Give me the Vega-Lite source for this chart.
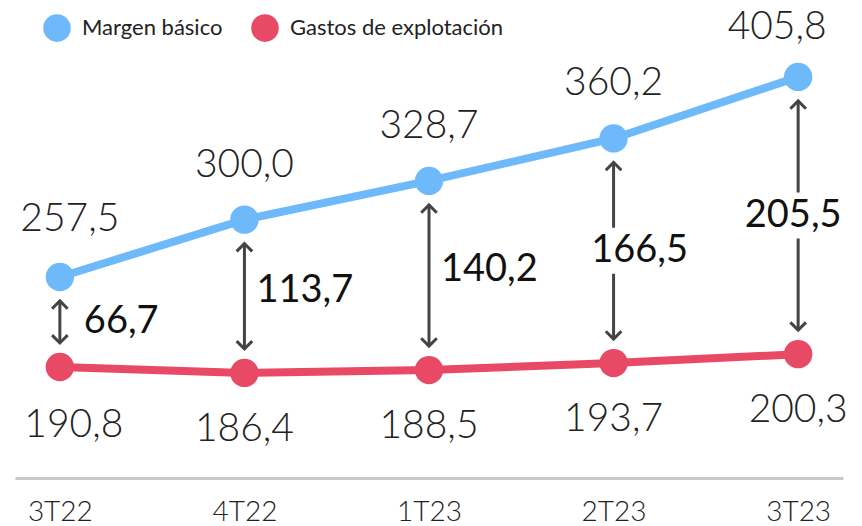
{
  "$schema": "https://vega.github.io/schema/vega-lite/v6.json",
  "width": 828,
  "height": 478,
  "autosize": {"type": "none"},
  "padding": {"left": 15, "top": 0, "right": 19, "bottom": 48},
  "background": "white",
  "config": {
    "view": {"stroke": null},
    "font": "Lato",
    "locale": {"number": {"decimal": ",", "thousands": ".", "grouping": [3], "currency": ["", " €"]}}
  },
  "data": {
    "values": [
      {"q": "3T22", "margen": 257.5, "gastos": 190.8, "diferencia": 66.7},
      {"q": "4T22", "margen": 300.0, "gastos": 186.4, "diferencia": 113.7},
      {"q": "1T23", "margen": 328.7, "gastos": 188.5, "diferencia": 140.2},
      {"q": "2T23", "margen": 360.2, "gastos": 193.7, "diferencia": 166.5},
      {"q": "3T23", "margen": 405.8, "gastos": 200.3, "diferencia": 205.5}
    ]
  },
  "encoding": {
    "x": {
      "field": "q", "type": "ordinal", "sort": null,
      "scale": {"type": "point", "padding": 0.243},
      "axis": {
        "title": null, "labelAngle": 0, "ticks": false, "grid": false,
        "domain": true, "domainColor": "#c8c8c8", "domainWidth": 3,
        "labelFont": "Lato", "labelFontWeight": 300, "labelFontSize": 28,
        "labelColor": "#222222", "labelPadding": 20
      }
    }
  },
  "layer": [
    {
      "transform": [{"fold": ["margen", "gastos"], "as": ["serie", "valor"]}],
      "mark": {"type": "line", "strokeWidth": 8},
      "encoding": {
        "y": {"field": "valor", "type": "quantitative", "scale": {"domain": [108.5, 462.8], "nice": false, "zero": false}, "axis": null},
        "color": {"field": "serie", "type": "nominal", "scale": {"domain": ["margen", "gastos"], "range": ["#6DB9FA", "#E84A66"]}}
      }
    },
    {
      "transform": [{"fold": ["margen", "gastos"], "as": ["serie", "valor"]}],
      "mark": {"type": "point", "filled": true, "size": 804, "opacity": 1},
      "encoding": {
        "y": {"field": "valor", "type": "quantitative", "scale": {"domain": [108.5, 462.8], "nice": false, "zero": false}, "axis": null},
        "color": {
          "field": "serie", "type": "nominal",
          "scale": {"domain": ["margen", "gastos"], "range": ["#6DB9FA", "#E84A66"]},
          "legend": {
            "title": null, "orient": "none", "legendX": 28, "legendY": 14, "direction": "horizontal",
            "symbolType": "circle", "symbolSize": 760, "symbolStrokeWidth": 0, "symbolOpacity": 1,
            "labelFont": "Lato", "labelFontSize": 22, "labelColor": "#222222", "labelOffset": 11,
            "labelLimit": 400, "columnPadding": 28,
            "labelExpr": "datum.value == 'margen' ? 'Margen básico' : 'Gastos de explotación'"
          }
        }
      }
    },
    {
      "transform": [{"filter": {"field": "q", "oneOf": ["3T22", "4T22", "1T23"]}}],
      "mark": {"type": "rule", "stroke": "#444444", "strokeWidth": 3, "yOffset": 24, "y2Offset": -24},
      "encoding": {
        "y": {"field": "margen", "type": "quantitative", "scale": {"domain": [108.5, 462.8], "nice": false, "zero": false}, "axis": null},
        "y2": {"field": "gastos"}
      }
    },
    {
      "transform": [
        {"filter": {"field": "q", "oneOf": ["2T23", "3T23"]}},
        {"fold": ["margen", "gastos"], "as": ["serie", "valor"]},
        {"joinaggregate": [{"op": "mean", "field": "valor", "as": "mid"}], "groupby": ["q"]},
        {"filter": "datum.serie == 'margen'"}
      ],
      "mark": {"type": "rule", "stroke": "#444444", "strokeWidth": 3, "yOffset": 24, "y2Offset": -23},
      "encoding": {
        "y": {"field": "margen", "type": "quantitative", "scale": {"domain": [108.5, 462.8], "nice": false, "zero": false}, "axis": null},
        "y2": {"field": "mid"}
      }
    },
    {
      "transform": [
        {"filter": {"field": "q", "oneOf": ["2T23", "3T23"]}},
        {"fold": ["margen", "gastos"], "as": ["serie", "valor"]},
        {"joinaggregate": [{"op": "mean", "field": "valor", "as": "mid"}], "groupby": ["q"]},
        {"filter": "datum.serie == 'margen'"}
      ],
      "mark": {"type": "rule", "stroke": "#444444", "strokeWidth": 3, "yOffset": 23, "y2Offset": -24},
      "encoding": {
        "y": {"field": "mid", "type": "quantitative", "scale": {"domain": [108.5, 462.8], "nice": false, "zero": false}, "axis": null},
        "y2": {"field": "gastos"}
      }
    },
    {
      "mark": {"type": "point", "shape": "M-0.9,0.9L0,0L0.9,0.9", "filled": false, "size": 300, "stroke": "#444444", "strokeWidth": 3, "opacity": 1, "yOffset": 24},
      "encoding": {
        "y": {"field": "margen", "type": "quantitative", "scale": {"domain": [108.5, 462.8], "nice": false, "zero": false}, "axis": null}
      }
    },
    {
      "mark": {"type": "point", "shape": "M-0.9,-0.9L0,0L0.9,-0.9", "filled": false, "size": 300, "stroke": "#444444", "strokeWidth": 3, "opacity": 1, "yOffset": -24},
      "encoding": {
        "y": {"field": "gastos", "type": "quantitative", "scale": {"domain": [108.5, 462.8], "nice": false, "zero": false}, "axis": null}
      }
    },
    {
      "transform": [
        {"fold": ["margen", "gastos"], "as": ["serie", "valor"]},
        {"joinaggregate": [{"op": "mean", "field": "valor", "as": "mid"}], "groupby": ["q"]},
        {"filter": "datum.serie == 'margen'"},
        {"filter": {"field": "q", "equal": "3T22"}}
      ],
      "mark": {"type": "text", "font": "Lato", "fontSize": 38, "fontWeight": 400, "fill": "#111111", "align": "left", "baseline": "middle", "dx": 24},
      "encoding": {
        "y": {"field": "mid", "type": "quantitative", "scale": {"domain": [108.5, 462.8], "nice": false, "zero": false}, "axis": null},
        "text": {"field": "diferencia", "type": "quantitative", "format": ".1f"}
      }
    },
    {
      "transform": [
        {"fold": ["margen", "gastos"], "as": ["serie", "valor"]},
        {"joinaggregate": [{"op": "mean", "field": "valor", "as": "mid"}], "groupby": ["q"]},
        {"filter": "datum.serie == 'margen'"},
        {"filter": {"field": "q", "oneOf": ["4T22", "1T23"]}}
      ],
      "mark": {"type": "text", "font": "Lato", "fontSize": 38, "fontWeight": 400, "fill": "#111111", "align": "left", "baseline": "middle", "dx": 12, "dy": -5},
      "encoding": {
        "y": {"field": "mid", "type": "quantitative", "scale": {"domain": [108.5, 462.8], "nice": false, "zero": false}, "axis": null},
        "text": {"field": "diferencia", "type": "quantitative", "format": ".1f"}
      }
    },
    {
      "transform": [
        {"fold": ["margen", "gastos"], "as": ["serie", "valor"]},
        {"joinaggregate": [{"op": "mean", "field": "valor", "as": "mid"}], "groupby": ["q"]},
        {"filter": "datum.serie == 'margen'"},
        {"filter": {"field": "q", "equal": "2T23"}}
      ],
      "mark": {"type": "text", "font": "Lato", "fontSize": 38, "fontWeight": 400, "fill": "#111111", "align": "center", "baseline": "middle", "dx": 26},
      "encoding": {
        "y": {"field": "mid", "type": "quantitative", "scale": {"domain": [108.5, 462.8], "nice": false, "zero": false}, "axis": null},
        "text": {"field": "diferencia", "type": "quantitative", "format": ".1f"}
      }
    },
    {
      "transform": [
        {"fold": ["margen", "gastos"], "as": ["serie", "valor"]},
        {"joinaggregate": [{"op": "mean", "field": "valor", "as": "mid"}], "groupby": ["q"]},
        {"filter": "datum.serie == 'margen'"},
        {"filter": {"field": "q", "equal": "3T23"}}
      ],
      "mark": {"type": "text", "font": "Lato", "fontSize": 38, "fontWeight": 400, "fill": "#111111", "align": "center", "baseline": "middle", "dx": -5},
      "encoding": {
        "y": {"field": "mid", "type": "quantitative", "scale": {"domain": [108.5, 462.8], "nice": false, "zero": false}, "axis": null},
        "text": {"field": "diferencia", "type": "quantitative", "format": ".1f"}
      }
    },
    {
      "transform": [{"filter": {"field": "q", "oneOf": ["4T22", "1T23", "2T23"]}}],
      "mark": {"type": "text", "font": "Lato", "fontSize": 39, "fontWeight": 300, "fill": "#222222", "align": "center", "baseline": "middle", "dy": -55},
      "encoding": {
        "y": {"field": "margen", "type": "quantitative", "scale": {"domain": [108.5, 462.8], "nice": false, "zero": false}, "axis": null},
        "text": {"field": "margen", "type": "quantitative", "format": ".1f"}
      }
    },
    {
      "transform": [{"filter": {"field": "q", "equal": "3T22"}}],
      "mark": {"type": "text", "font": "Lato", "fontSize": 39, "fontWeight": 300, "fill": "#222222", "align": "center", "baseline": "middle", "dy": -58, "dx": 10},
      "encoding": {
        "y": {"field": "margen", "type": "quantitative", "scale": {"domain": [108.5, 462.8], "nice": false, "zero": false}, "axis": null},
        "text": {"field": "margen", "type": "quantitative", "format": ".1f"}
      }
    },
    {
      "transform": [{"filter": {"field": "q", "equal": "3T23"}}],
      "mark": {"type": "text", "font": "Lato", "fontSize": 39, "fontWeight": 300, "fill": "#222222", "align": "center", "baseline": "middle", "dy": -50, "dx": -21},
      "encoding": {
        "y": {"field": "margen", "type": "quantitative", "scale": {"domain": [108.5, 462.8], "nice": false, "zero": false}, "axis": null},
        "text": {"field": "margen", "type": "quantitative", "format": ".1f"}
      }
    },
    {
      "transform": [{"filter": {"field": "q", "oneOf": ["4T22", "1T23", "2T23", "3T23"]}}],
      "mark": {"type": "text", "font": "Lato", "fontSize": 39, "fontWeight": 300, "fill": "#222222", "align": "center", "baseline": "middle", "dy": 56},
      "encoding": {
        "y": {"field": "gastos", "type": "quantitative", "scale": {"domain": [108.5, 462.8], "nice": false, "zero": false}, "axis": null},
        "text": {"field": "gastos", "type": "quantitative", "format": ".1f"}
      }
    },
    {
      "transform": [{"filter": {"field": "q", "equal": "3T22"}}],
      "mark": {"type": "text", "font": "Lato", "fontSize": 39, "fontWeight": 300, "fill": "#222222", "align": "center", "baseline": "middle", "dy": 58, "dx": 14},
      "encoding": {
        "y": {"field": "gastos", "type": "quantitative", "scale": {"domain": [108.5, 462.8], "nice": false, "zero": false}, "axis": null},
        "text": {"field": "gastos", "type": "quantitative", "format": ".1f"}
      }
    }
  ]
}
